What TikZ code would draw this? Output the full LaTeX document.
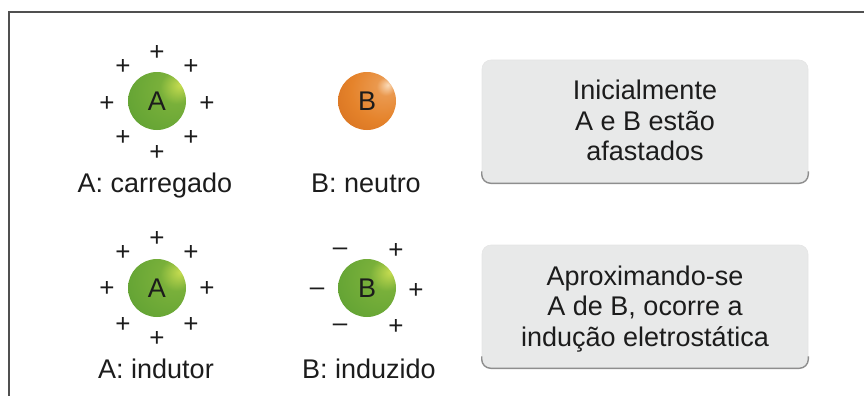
\documentclass[tikz,border=0pt]{standalone}
\usepackage{fontspec}
\setmainfont{Liberation Sans}
\usepackage{tikz}

\definecolor{boxgray}{HTML}{E8E9E9}
\definecolor{boxedge}{HTML}{8E8E8E}
\definecolor{framegray}{HTML}{505050}
\definecolor{ink}{HTML}{1C1C1C}
\definecolor{grhigh}{HTML}{C6DC50}
\definecolor{grmain}{HTML}{66A535}
\definecolor{grdark}{HTML}{3A7A25}
\definecolor{orhigh}{HTML}{FADAB8}
\definecolor{ormain}{HTML}{E5832B}
\definecolor{ordark}{HTML}{C55C14}

\pgfdeclareradialshading{greenball}{\pgfpoint{20bp}{14bp}}{color(0bp)=(grhigh); color(14bp)=(grmain!80!grhigh); color(36bp)=(grmain); color(68bp)=(grdark); color(80bp)=(grdark)}
\pgfdeclareradialshading{orangeball}{\pgfpoint{18bp}{14bp}}{color(0bp)=(orhigh); color(8bp)=(ormain!75!orhigh); color(26bp)=(ormain); color(66bp)=(ordark); color(80bp)=(ordark)}

\begin{document}
\begin{tikzpicture}[x = 1pt, y = -1pt,
        ball/.style = {circle, minimum size=58pt, inner sep=0pt, text=ink, font=\fontsize{27}{30}\selectfont},
        charge/.style = {text=ink, inner sep=0pt, font=\fontsize{26}{26}\selectfont},
        lbl/.style = {text=ink, inner sep=0pt, text height=19pt, text depth=6pt, font=\fontsize{27}{30}\selectfont},
        infobox/.style = {fill=boxgray, draw=black!10, line width=.6pt, rounded corners=9pt, minimum width=326pt, minimum height=123pt},
        boxtext/.style = {align=center, inner sep=0pt, text=ink, font=\fontsize{27}{30.5}\selectfont}]
        \useasboundingbox (0,0) rectangle (864,396);
        \draw[framegray, line width=2.2pt] (864,12) -- (9,12) -- (9,396);

        % A e B afastados
        \node[ball, shading=greenball] (A1) at (157,101) {A};
        \node[charge] (pA1) at (157,53) {+};
        \node[charge] (pA2) at (123,67) {+};
        \node[charge] (pA3) at (191,67) {+};
        \node[charge] (pA4) at (107,104) {+};
        \node[charge] (pA5) at (207,104) {+};
        \node[charge] (pA6) at (123,138) {+};
        \node[charge] (pA7) at (191,138) {+};
        \node[charge] (pA8) at (157,153) {+};
        \node[lbl] (labA1) at (155,186) {A: carregado};

        \node[ball, shading=orangeball] (B1) at (367,101) {B};
        \node[lbl] (labB1) at (366,186) {B: neutro};

        \node[infobox] (box1) at (645,121.5) {};
        \draw[boxedge, line width=1.4pt, rounded corners=9pt] ([yshift=12pt]box1.south west) -- (box1.south west) -- (box1.south east) -- ([yshift=12pt]box1.south east);
        \node[boxtext] (txt1) at ([yshift=1pt]box1.center) {Inicialmente\\A e B estão\\afastados};

        % inducao
        \node[ball, shading=greenball] (A2) at (157,288) {A};
        \node[charge] (pB1) at (157,239) {+};
        \node[charge] (pB2) at (123,253) {+};
        \node[charge] (pB3) at (191,253) {+};
        \node[charge] (pB4) at (107,289) {+};
        \node[charge] (pB5) at (207,289) {+};
        \node[charge] (pB6) at (123,325) {+};
        \node[charge] (pB7) at (191,325) {+};
        \node[charge] (pB8) at (157,339) {+};
        \node[lbl] (labA2) at (156,371.5) {A: indutor};

        \node[ball, shading=greenball] (B2) at (367,288) {B};
        \node[charge] (mB1) at (340,252) {–};
        \node[charge] (mB2) at (317,292) {–};
        \node[charge] (mB3) at (340,328) {–};
        \node[charge] (qB1) at (396,251) {+};
        \node[charge] (qB2) at (416,291) {+};
        \node[charge] (qB3) at (396,327) {+};
        \node[lbl] (labB2) at (369,371.5) {B: induzido};

        \node[infobox] (box2) at (645,306.5) {};
        \draw[boxedge, line width=1.4pt, rounded corners=9pt] ([yshift=12pt]box2.south west) -- (box2.south west) -- (box2.south east) -- ([yshift=12pt]box2.south east);
        \node[boxtext] (txt2) at ([yshift=-2.5pt]box2.center) {Aproximando-se\\A de B, ocorre a\\indução eletrostática};
      \end{tikzpicture}
\end{document}
